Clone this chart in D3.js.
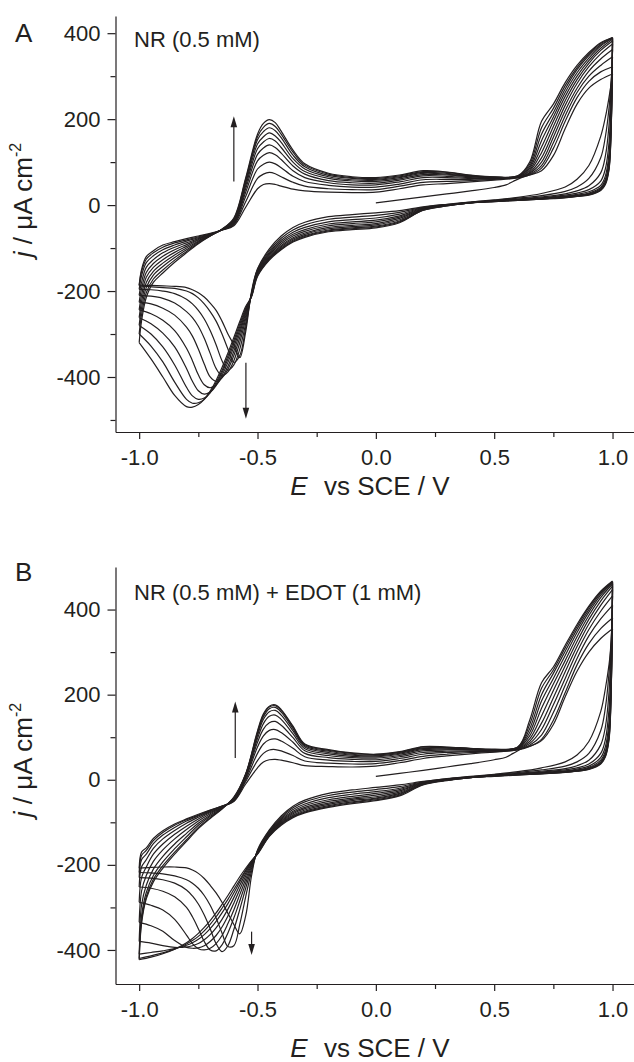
<!DOCTYPE html>
<html><head><meta charset="utf-8">
<script src="https://cdn.jsdelivr.net/npm/d3@7"></script>
<style>
html,body{margin:0;padding:0;background:#fff;}
svg{display:block;}
</style></head><body>
<svg id="chart" width="634" height="1062"></svg>
<script>
// ---------- shared grids / ticks ----------
const gridAnodic = [-1.0,-0.99,-0.97,-0.94,-0.9,-0.85,-0.8,-0.75,-0.7,-0.65,-0.6,-0.55,-0.5,-0.475,-0.45,-0.425,-0.4,-0.35,-0.3,-0.2,-0.1,0.0,0.1,0.2,0.3,0.4,0.5,0.6,0.65,0.7,0.75,0.8,0.85,0.9,0.95,1.0];
const gridCathodic = [1.0,0.995,0.985,0.97,0.95,0.9,0.85,0.8,0.7,0.6,0.5,0.4,0.3,0.2,0.1,0.0,-0.1,-0.2,-0.3,-0.35,-0.4,-0.45,-0.5,-0.525,-0.55,-0.575,-0.6,-0.625,-0.65,-0.675,-0.7,-0.725,-0.75,-0.775,-0.8,-0.85,-0.9,-0.95,-1.0];
const xTicksMajor = [-1.0,-0.5,0.0,0.5,1.0];
const xTickLabels = ["-1.0","-0.5","0.0","0.5","1.0"];
const xTicksMinor = [-0.75,-0.25,0.25,0.75];
const yTicksMajor = [-400,-200,0,200,400];
const yTickLabels = ["-400","-200","0","200","400"];
const yTicksMinorA = [-500,-300,-100,100,300];
const yTicksMinorB = [-300,-100,100,300];

// ---------- Panel A : NR (0.5 mM) ----------
const A_initial = [[0,5],[0.1,12],[0.2,19],[0.3,26],[0.4,33],[0.5,41],[0.55,47],[0.58,55],[0.62,65],[0.65,70],[0.7,80],[0.75,115],[0.8,178],[0.85,235],[0.9,272],[0.95,292],[1.0,305]];
const A_anodic = [
[-186,-188,-196,-210,-226,-244,-262,-280,-300,-320],
[-150,-155,-165,-180,-195,-210,-225,-240,-255,-270],
[-120,-126,-134,-145,-157,-168,-180,-192,-204,-215],
[-106,-111,-118,-127,-136,-145,-154,-163,-172,-180],
[-93,-98,-104,-111,-119,-127,-135,-143,-151,-158],
[-85,-88,-93,-98,-104,-110,-116,-122,-128,-133],
[-78,-81,-84,-88,-92,-96,-100,-104,-108,-111],
[-72,-74,-76,-78,-80,-82,-84,-86,-88,-90],
[-66,-67,-68,-69,-69,-70,-71,-71,-72,-72],
[-58,-58,-58,-58,-57,-57,-57,-56,-56,-56],
[-48,-46,-44,-42,-40,-38,-36,-34,-32,-30],
[-5,8,20,30,38,45,51,56,60,63],
[38,62,84,103,118,131,142,152,159,165],
[48,72,95,116,133,147,159,171,181,190],
[50,76,100,122,140,155,168,180,190,199],
[48,73,96,117,134,149,161,173,183,192],
[44,66,87,106,121,134,146,157,165,172],
[37,53,67,80,91,100,108,116,123,128],
[33,44,55,64,72,78,84,89,93,96],
[30,38,46,52,57,62,66,69,72,74],
[29,36,42,47,52,56,59,62,64,66],
[30,36,42,47,51,55,58,60,62,64],
[38,44,49,54,58,61,64,66,68,70],
[47,53,59,64,68,71,74,76,78,80],
[50,55,60,64,67,70,72,74,76,77],
[54,57,60,62,64,66,67,68,69,70],
[58,60,61,62,63,64,64,65,65,66],
[63,64,65,65,66,66,67,67,68,68],
[70,72,74,76,79,82,86,90,95,100],
[86,92,100,110,122,135,150,165,180,195],
[132,145,158,170,183,195,205,215,225,235],
[195,208,220,232,243,253,262,270,278,285],
[250,262,272,283,292,300,308,315,320,325],
[288,300,312,322,330,336,342,348,352,355],
[310,325,340,352,360,365,370,373,376,378],
[322,345,362,375,382,386,388,389,390,390]];
const A_cathodic = [
[305,322,345,362,375,382,386,388,389,390],
[285,295,290,265,235,215,205,198,194,192],
[250,225,185,145,120,105,95,88,84,82],
[205,160,115,85,68,60,55,52,50,48],
[160,110,75,56,46,41,38,36,35,34],
[92,62,45,36,31,28,26,25,24,23],
[60,42,33,28,25,23,22,21,20,20],
[42,32,26,23,21,20,19,18,18,17],
[27,22,19,17,16,15,15,14,14,14],
[18,16,14,13,13,12,12,12,11,11],
[12,11,10,10,9,9,9,9,8,8],
[7,7,6,6,6,5,5,5,5,5],
[2,1,1,0,0,-1,-1,-1,-2,-2],
[-4,-5,-6,-7,-8,-9,-10,-11,-12,-12],
[-13,-17,-21,-25,-28,-31,-34,-37,-39,-41],
[-18,-24,-30,-35,-39,-43,-46,-49,-51,-53],
[-22,-28,-34,-39,-43,-47,-50,-53,-55,-57],
[-27,-33,-39,-44,-48,-52,-55,-58,-60,-62],
[-40,-46,-52,-57,-61,-65,-68,-71,-73,-75],
[-52,-58,-63,-68,-72,-76,-79,-82,-84,-86],
[-72,-77,-82,-86,-90,-94,-97,-100,-102,-104],
[-102,-106,-110,-113,-116,-119,-122,-124,-126,-128],
[-148,-150,-152,-154,-156,-158,-160,-162,-164,-166],
[-200,-205,-205,-207,-208,-209,-210,-211,-212,-213],
[-295,-285,-275,-265,-258,-252,-248,-244,-240,-236],
[-355,-350,-335,-320,-308,-298,-290,-283,-277,-271],
[-325,-366,-372,-362,-350,-340,-330,-322,-315,-308],
[-300,-335,-384,-388,-382,-375,-366,-358,-351,-344],
[-270,-300,-362,-397,-402,-401,-396,-390,-385,-378],
[-245,-270,-325,-380,-410,-418,-420,-417,-413,-408],
[-228,-248,-292,-345,-400,-425,-435,-437,-436,-433],
[-214,-230,-265,-310,-370,-418,-440,-449,-452,-452],
[-204,-216,-245,-282,-335,-395,-432,-452,-460,-464],
[-197,-206,-230,-262,-305,-362,-410,-444,-461,-470],
[-192,-200,-219,-248,-284,-333,-380,-424,-452,-469],
[-189,-194,-206,-228,-256,-292,-330,-372,-412,-443],
[-188,-192,-200,-217,-240,-268,-298,-330,-365,-400],
[-187,-190,-197,-212,-230,-253,-276,-300,-328,-358],
[-186,-188,-196,-210,-226,-244,-262,-280,-300,-320]];
const A_arrows = [[-0.60,55,207],[-0.549,-367,-497]];

// ---------- Panel B : NR (0.5 mM) + EDOT (1 mM) ----------
const B_initial = [[0,8],[0.1,15],[0.2,22],[0.3,30],[0.4,38],[0.5,47],[0.55,53],[0.58,62],[0.62,74],[0.65,79],[0.7,92],[0.75,130],[0.8,195],[0.85,255],[0.9,300],[0.95,332],[1.0,355]];
const B_anodic = [
[-208,-218,-230,-252,-288,-335,-380,-410,-420,-423],
[-170,-178,-188,-205,-230,-262,-295,-320,-332,-338],
[-160,-166,-175,-188,-205,-225,-248,-265,-275,-280],
[-138,-143,-150,-161,-175,-192,-210,-225,-234,-240],
[-120,-124,-130,-139,-151,-165,-180,-193,-202,-208],
[-104,-107,-112,-119,-128,-139,-151,-162,-170,-175],
[-92,-94,-97,-102,-109,-117,-126,-134,-141,-145],
[-81,-83,-85,-88,-92,-97,-102,-107,-112,-115],
[-71,-72,-73,-75,-77,-80,-83,-86,-89,-91],
[-62,-62,-63,-63,-64,-65,-66,-67,-68,-69],
[-51,-50,-49,-48,-47,-45,-44,-43,-42,-41],
[-10,-4,0,4,7,9,11,12,13,14],
[28,45,62,77,88,97,104,109,112,115],
[42,62,84,103,119,132,142,148,152,155],
[47,70,94,116,134,149,160,167,171,173],
[48,71,96,118,137,152,163,170,174,176],
[46,68,91,111,128,142,152,159,163,165],
[40,57,74,88,99,108,115,120,124,126],
[33,44,54,62,68,73,77,80,82,84],
[31,39,46,52,57,61,64,67,69,71],
[30,37,43,48,52,55,58,60,62,63],
[32,38,43,47,51,54,56,58,59,60],
[40,45,50,54,57,60,62,64,65,66],
[50,55,60,64,68,71,73,75,77,78],
[56,60,64,67,70,72,74,75,76,77],
[61,64,66,68,70,71,72,73,73,74],
[65,66,67,68,69,70,70,71,71,72],
[70,71,72,73,74,75,76,76,77,77],
[78,81,85,90,96,103,111,120,130,140],
[95,105,118,133,150,168,185,200,215,228],
[140,158,176,193,210,225,238,250,258,265],
[205,222,238,254,268,280,292,302,310,316],
[270,285,300,313,325,336,346,354,360,365],
[320,338,353,366,377,386,394,400,405,408],
[355,378,396,410,420,428,434,438,441,443],
[380,410,432,447,455,460,463,465,466,467]];
const B_cathodic = [
[355,380,410,432,447,455,460,463,465,466],
[320,340,330,300,270,250,240,232,228,225],
[270,250,205,165,135,118,108,100,96,93],
[215,170,125,95,78,68,62,58,56,54],
[160,115,82,62,52,46,42,40,38,37],
[90,62,46,37,32,29,27,26,25,24],
[58,42,33,28,25,23,22,21,20,20],
[42,32,26,23,21,20,19,18,18,17],
[28,23,20,18,17,16,15,15,14,14],
[19,17,15,14,13,13,12,12,12,11],
[13,12,11,10,10,9,9,9,9,8],
[8,7,7,6,6,6,5,5,5,5],
[3,2,1,1,0,0,-1,-1,-1,-2],
[-4,-5,-6,-7,-8,-9,-10,-10,-11,-12],
[-12,-16,-20,-23,-26,-29,-32,-34,-36,-38],
[-18,-23,-28,-32,-36,-40,-43,-45,-47,-49],
[-24,-29,-34,-39,-43,-46,-49,-52,-54,-56],
[-32,-37,-42,-47,-51,-55,-58,-61,-63,-65],
[-48,-52,-57,-61,-65,-68,-71,-74,-76,-78],
[-62,-66,-70,-74,-77,-80,-83,-85,-87,-89],
[-85,-88,-91,-94,-97,-99,-101,-103,-105,-107],
[-118,-120,-122,-124,-126,-128,-129,-131,-132,-133],
[-165,-167,-168,-169,-170,-171,-172,-173,-174,-175],
[-225,-215,-208,-203,-199,-196,-194,-192,-191,-190],
[-320,-275,-255,-243,-234,-226,-220,-215,-212,-208],
[-362,-340,-305,-285,-270,-258,-248,-240,-235,-228],
[-340,-390,-352,-325,-306,-290,-277,-266,-258,-250],
[-314,-392,-390,-360,-338,-320,-304,-291,-281,-272],
[-288,-360,-404,-388,-366,-346,-328,-313,-302,-293],
[-266,-325,-385,-402,-385,-366,-348,-333,-322,-313],
[-248,-295,-350,-400,-396,-380,-364,-350,-340,-331],
[-232,-272,-318,-380,-400,-390,-376,-364,-355,-347],
[-220,-255,-292,-350,-397,-395,-385,-375,-368,-361],
[-212,-243,-273,-322,-385,-396,-390,-383,-378,-373],
[-207,-235,-259,-300,-365,-394,-393,-389,-386,-383],
[-205,-226,-243,-275,-328,-378,-394,-397,-398,-398],
[-205,-221,-235,-262,-306,-356,-390,-402,-407,-409],
[-206,-219,-231,-255,-295,-343,-384,-406,-414,-417],
[-208,-218,-230,-252,-288,-335,-380,-410,-420,-423]];
const B_arrows = [[-0.594,51,184],[-0.525,-357,-412]];

// ---------- drawing ----------
const INK = "#231f20";
const FONT = "'Liberation Sans', Arial, Helvetica, sans-serif";
const svg = d3.select("#chart").style("font-family", FONT);

function drawPanel(cfg) {
  const g = svg.append("g");
  const x = d3.scaleLinear().domain([-1.1, 1.1]).range([115.5, 636.2]);
  const y = d3.scaleLinear().domain(cfg.yDomain).range(cfg.yRange);

  g.append("g").attr("transform", `translate(0,${cfg.yRange[0]})`).style("color", INK)
    .call(d3.axisBottom(x).tickValues(xTicksMajor).tickFormat((d,i)=>xTickLabels[i]).tickSize(7).tickSizeOuter(0).tickPadding(10));
  g.append("g").attr("transform", `translate(0,${cfg.yRange[0]})`).style("color", INK)
    .call(d3.axisBottom(x).tickValues(xTicksMinor).tickFormat("").tickSize(5).tickSizeOuter(0))
    .select(".domain").remove();
  g.append("g").attr("transform", `translate(${x.range()[0]},0)`).style("color", INK)
    .call(d3.axisLeft(y).tickValues(yTicksMajor).tickFormat((d,i)=>yTickLabels[i]).tickSize(8).tickSizeOuter(0).tickPadding(7));
  g.append("g").attr("transform", `translate(${x.range()[0]},0)`).style("color", INK)
    .call(d3.axisLeft(y).tickValues(cfg.yMinor).tickFormat("").tickSize(5).tickSizeOuter(0))
    .select(".domain").remove();
  g.selectAll(".domain, .tick line").attr("stroke-width", 1.2);
  g.selectAll(".tick text").attr("font-size", 22).attr("font-family", FONT).attr("fill", INK);

  const line = d3.line().x(d=>x(d[0])).y(d=>y(d[1])).curve(d3.curveCatmullRom.alpha(0.5));
  const curves = g.append("g").attr("fill", "none").attr("stroke", INK).attr("stroke-width", 1.2).attr("stroke-linejoin","round");
  curves.append("path").attr("d", line(cfg.initial));
  const n = cfg.anodic[0].length;
  for (let k = 0; k < n; k++) {
    curves.append("path").attr("d", line(gridCathodic.map((e,i)=>[e, cfg.cathodic[i][k]])));
    curves.append("path").attr("d", line(gridAnodic.map((e,i)=>[e, cfg.anodic[i][k]])));
  }

  cfg.arrows.forEach(([e, j0, j1]) => {
    const px = x(e), y0 = y(j0), y1 = y(j1);
    const dir = y1 < y0 ? 1 : -1;
    g.append("line").attr("x1", px).attr("x2", px).attr("y1", y0).attr("y2", y1 + dir*8)
      .attr("stroke", INK).attr("stroke-width", 1.2);
    g.append("path").attr("d", `M${px},${y1} L${px-3.3},${y1+dir*11} L${px+3.3},${y1+dir*11} Z`).attr("fill", INK);
  });

  g.append("text").attr("x", 15).attr("y", cfg.letterY).attr("font-size", 26).attr("fill", INK).text(cfg.letter);
  g.append("text").attr("x", 134).attr("y", cfg.noteY).attr("font-size", 22).attr("fill", INK).text(cfg.note);
  const yl = g.append("text").attr("transform", `translate(32,${cfg.yLabelY}) rotate(-90)`)
    .attr("text-anchor", "middle").attr("font-size", 26).attr("fill", INK);
  yl.append("tspan").attr("font-style", "italic").text("j");
  yl.append("tspan").text(" / \u03bcA cm");
  yl.append("tspan").attr("font-size", 16).attr("dy", -11).text("-2");
  const xl = g.append("text").attr("x", 370).attr("y", cfg.xLabelY).attr("text-anchor", "middle")
    .attr("font-size", 26).attr("fill", INK);
  xl.append("tspan").attr("font-style", "italic").text("E");
  xl.append("tspan").attr("dx", 9).text(" vs SCE / V");
}

drawPanel({letter:"A", letterY:42, note:"NR (0.5 mM)", noteY:47,
  yDomain:[-528, 440], yRange:[432, 16], yMinor:yTicksMinorA, yLabelY:200, xLabelY:495,
  initial:A_initial, anodic:A_anodic, cathodic:A_cathodic, arrows:A_arrows});
drawPanel({letter:"B", letterY:581, note:"NR (0.5 mM) + EDOT (1 mM)", noteY:600,
  yDomain:[-480, 500], yRange:[984, 567], yMinor:yTicksMinorB, yLabelY:760, xLabelY:1057,
  initial:B_initial, anodic:B_anodic, cathodic:B_cathodic, arrows:B_arrows});
</script>
</body></html>
